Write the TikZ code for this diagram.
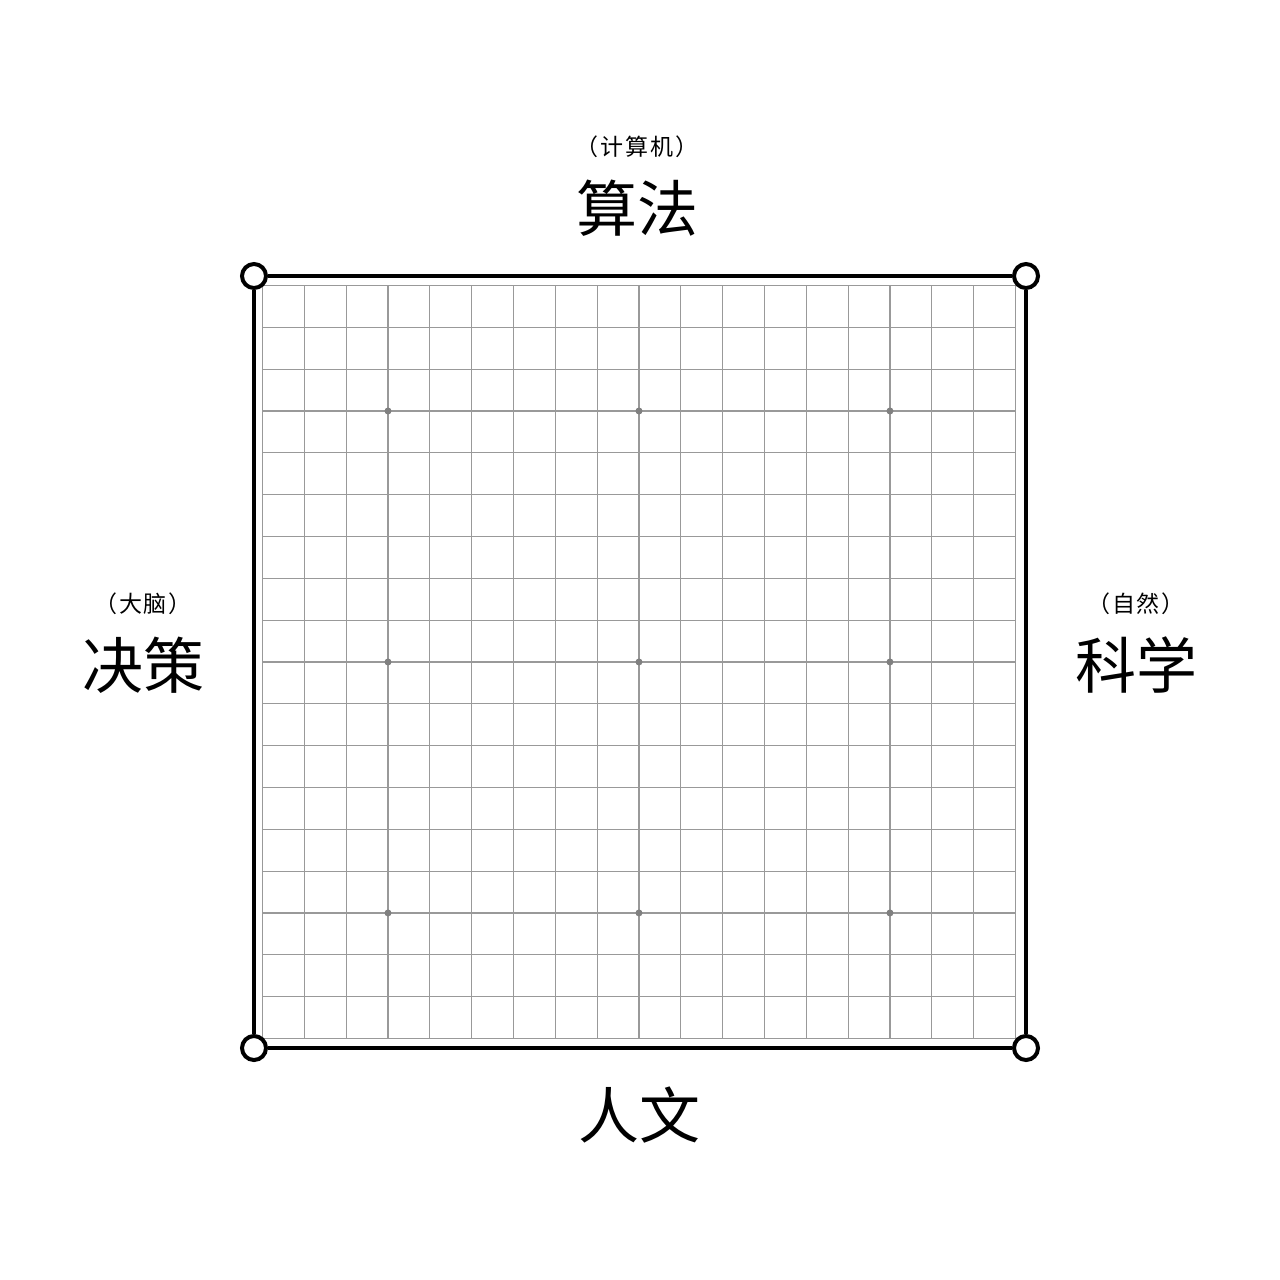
\documentclass[tikz,border=0pt]{standalone}
\usepackage{fontspec}
\usepackage{tikz}
\usetikzlibrary{positioning}
\newfontfamily\cjk{Noto Sans CJK SC}
\newfontfamily\cjkwide[LetterSpace=8]{Noto Sans CJK SC}
\tikzset{
    corner/.style={
        draw,
        circle,
        line width=4pt,
        fill=white,
        minimum size=24pt,
        inner sep=0pt
    },
    border/.style={line width=4.5pt},
    gridline/.style={draw=black!40, line width=1.2pt},
    star/.style={
        circle,
        fill=black!50,
        minimum size=7pt,
        inner sep=0pt
    },
    biglabel/.style={font=\cjk\fontsize{61}{61}\selectfont, inner sep=0pt},
    sublabel/.style={font=\cjkwide\fontsize{23}{23}\selectfont, inner sep=0pt}
}

\begin{document}
\begin{tikzpicture}[x=1pt, y=-1pt, node distance=22pt]
        \useasboundingbox (0,0) rectangle (1280,1280);

        % board grid, 19 x 19 lines
        \foreach \i in {0,...,18} {
            \draw[gridline] (262.5+\i*41.83,285.5) -- ++(0,753);
            \draw[gridline] (262.5,285.5+\i*41.83) -- ++(753,0);
        }
        \foreach \i in {3,9,15} {
            \foreach \j in {3,9,15} {
                \node[star] at (262.5+\i*41.83,285.5+\j*41.83) {};
            }
        }

        \node[corner] (tl) at (254,276) {};
        \node[corner] (tr) at (1026,276) {};
        \node[corner] (br) at (1026,1048) {};
        \node[corner] (bl) at (254,1048) {};

        \draw[border] (tl) -- (tr);
        \draw[border] (tr) -- (br);
        \draw[border] (br) -- (bl);
        \draw[border] (bl) -- (tl);

        \node[biglabel] (algo) at (637,208) {算法};
        \node[sublabel, above=of algo] (algosub) {（计算机）};
        \node[biglabel] (decide) at (143,665) {决策};
        \node[sublabel, above=of decide] (decidesub) {（大脑）};
        \node[biglabel] (science) at (1136,665) {科学};
        \node[sublabel, above=of science] (sciencesub) {（自然）};
        \node[biglabel] (human) at (639,1115) {人文};
    \end{tikzpicture}
\end{document}
